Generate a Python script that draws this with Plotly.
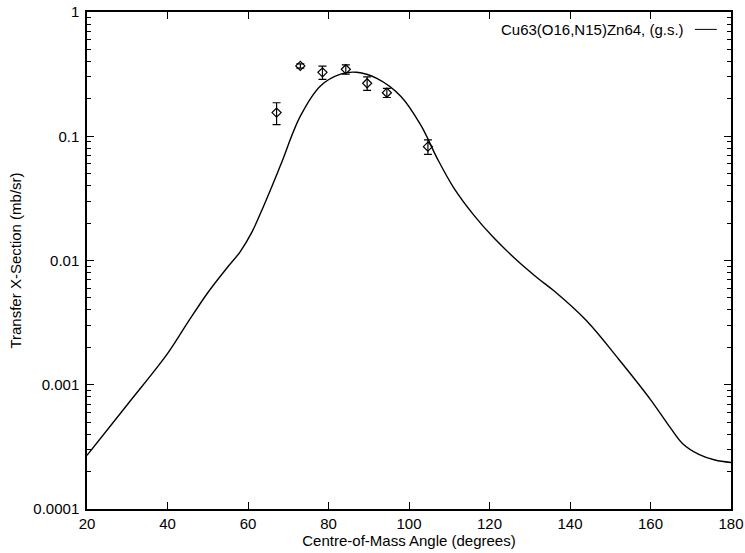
import plotly.graph_objects as go

# Calculated transfer cross-section (curve)
theory_angle = [20, 30, 40, 45, 50, 55, 58, 61, 64, 68, 73, 78, 83, 87, 92, 98,
                103, 107, 111, 116, 121, 127, 132, 136, 144, 152, 160, 165, 168,
                172, 176, 180]
theory_xsec = [2.7e-4, 6.9e-4, 1.78e-3, 3.16e-3, 5.5e-3, 8.9e-3, 0.0117, 0.017,
               0.028, 0.0575, 0.145, 0.254, 0.316, 0.327, 0.292, 0.209, 0.1216,
               0.0664, 0.039, 0.0234, 0.0153, 0.0099, 0.0072, 0.0057, 0.0033,
               0.00162, 0.00076, 0.000447, 0.000335, 0.000275, 0.000248, 0.000237]

# Measured points with uncertainties
exp_angle = [67.1, 73.0, 78.5, 84.3, 89.6, 94.5, 104.7]
exp_xsec = [0.155, 0.368, 0.327, 0.346, 0.267, 0.224, 0.0824]
exp_err = [0.031, 0.014, 0.040, 0.030, 0.033, 0.019, 0.011]

x_range = [20, 180]
x_ticks = [20, 40, 60, 80, 100, 120, 140, 160, 180]
y_decades = [-4, 0]
y_tickvals = [1e-4, 1e-3, 1e-2, 1e-1, 1]
y_ticktext = ["0.0001", "0.001", "0.01", "0.1", "1"]

legend_label = "Cu63(O16,N15)Zn64, (g.s.)"

FONT = "Liberation Sans, Arial, sans-serif"
FS = 15

fig = go.Figure()
fig.add_trace(go.Scatter(
    x=theory_angle, y=theory_xsec, mode="lines",
    line=dict(color="black", width=1.4, shape="spline", smoothing=1.0),
    showlegend=False, hoverinfo="skip"))
fig.add_trace(go.Scatter(
    x=exp_angle, y=exp_xsec, mode="markers",
    marker=dict(symbol="diamond-open", size=7, color="black", line=dict(width=1.2)),
    error_y=dict(type="data", array=exp_err, color="black", thickness=1.2, width=4),
    showlegend=False))

fig.update_xaxes(
    range=x_range, tickvals=x_ticks, automargin=False,
    ticks="inside", ticklen=7, tickwidth=1.2, tickcolor="black",
    showline=True, linecolor="black", linewidth=1.5, mirror="allticks",
    showgrid=False, zeroline=False,
    tickfont=dict(family=FONT, size=FS, color="black"),
    title=dict(text="Centre-of-Mass Angle (degrees)", standoff=1,
               font=dict(family=FONT, size=FS, color="black")))
fig.update_yaxes(
    type="log", range=y_decades, automargin=False,
    tickvals=y_tickvals, ticktext=y_ticktext, ticklabelstandoff=3,
    ticks="inside", ticklen=7, tickwidth=1.2, tickcolor="black",
    minor=dict(ticks="inside", ticklen=4, tickwidth=1.2, tickcolor="black",
               dtick="D1", showgrid=False),
    showline=True, linecolor="black", linewidth=1.5, mirror="allticks",
    showgrid=False, zeroline=False,
    tickfont=dict(family=FONT, size=FS, color="black"),
    title=dict(text="Transfer X-Section (mb/sr)", standoff=8,
               font=dict(family=FONT, size=FS, color="black")))

# Legend entry: label followed by a line sample
fig.add_annotation(x=0.93, y=0.965, xref="paper", yref="paper", text=legend_label,
                   showarrow=False, xanchor="right", yanchor="middle",
                   font=dict(family=FONT, size=FS, color="black"))
fig.add_shape(type="line", xref="paper", yref="paper", x0=0.944, x1=0.978,
              y0=0.965, y1=0.965, line=dict(color="black", width=1))

fig.update_layout(
    width=745, height=553,
    margin=dict(l=87, r=14, t=12, b=44),
    paper_bgcolor="white", plot_bgcolor="white",
    font=dict(family=FONT, color="black"),
)

fig.write_html("out.html")
